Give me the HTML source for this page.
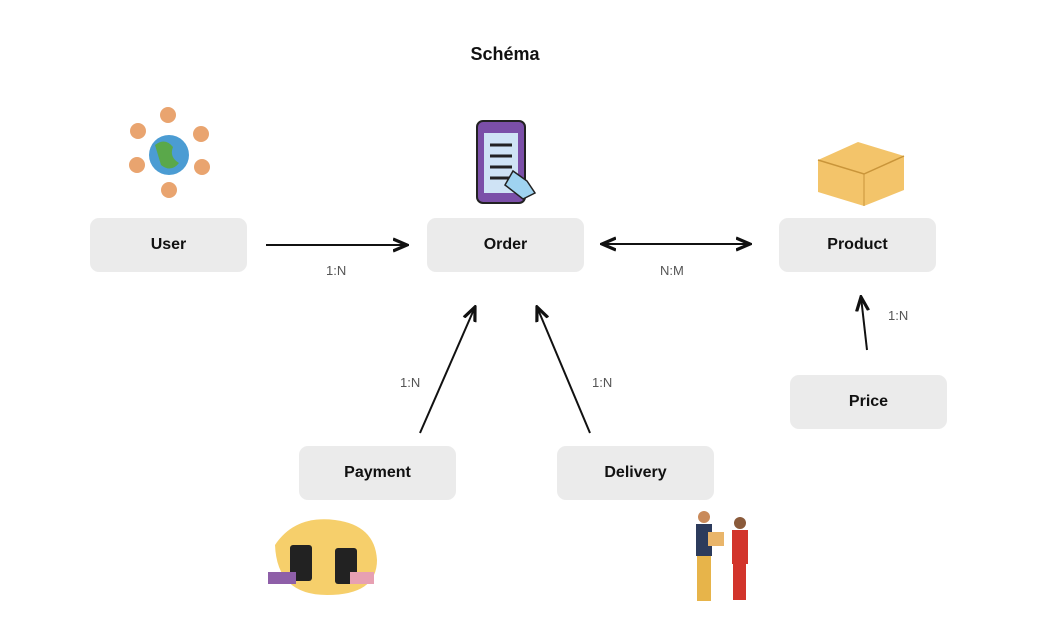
<!DOCTYPE html>
<html><head><meta charset="utf-8"><style>
body{margin:0;background:#fff;width:1050px;height:638px;overflow:hidden;position:relative;font-family:"Liberation Sans",sans-serif}
.b{position:absolute;width:157px;height:54px;background:#ebebeb;border-radius:9px;display:flex;align-items:center;justify-content:center;font-weight:bold;font-size:16px;color:#111}
.l{position:absolute;font-size:13px;color:#555}
svg{position:absolute;left:0;top:0}
</style></head><body>
<div style="position:absolute;left:0;width:1010px;top:44px;text-align:center;font-weight:bold;font-size:18px;color:#111">Schéma</div>
<div class="b" style="left:90px;top:218px">User</div>
<div class="b" style="left:427px;top:218px">Order</div>
<div class="b" style="left:779px;top:218px">Product</div>
<div class="b" style="left:790px;top:375px">Price</div>
<div class="b" style="left:299px;top:446px">Payment</div>
<div class="b" style="left:557px;top:446px">Delivery</div>
<div class="l" style="left:326px;top:263px">1:N</div>
<div class="l" style="left:660px;top:263px">N:M</div>
<div class="l" style="left:400px;top:375px">1:N</div>
<div class="l" style="left:592px;top:375px">1:N</div>
<div class="l" style="left:888px;top:308px">1:N</div>
<svg width="1050" height="638">
<defs><marker id="a" markerWidth="8" markerHeight="8" refX="7" refY="4" orient="auto-start-reverse"><path d="M0,1 L7,4 L0,7" fill="none" stroke="#111" stroke-width="1.6"/></marker></defs>
<g stroke="#111" stroke-width="2" fill="none">
<line x1="266" y1="245" x2="407" y2="245" marker-end="url(#a)"/>
<line x1="602" y1="244" x2="750" y2="244" marker-start="url(#a)" marker-end="url(#a)"/>
<line x1="420" y1="433" x2="475" y2="307" marker-end="url(#a)"/>
<line x1="590" y1="433" x2="537" y2="307" marker-end="url(#a)"/>
<line x1="867" y1="350" x2="861" y2="297" marker-end="url(#a)"/>
</g>
<!-- user globe -->
<circle cx="169" cy="155" r="20" fill="#4b9cd3"/><path d="M155,145 q10,-8 18,2 q-4,10 6,16 q-8,10 -18,2 z" fill="#5aa84a"/>
<g fill="#e9a46f"><circle cx="138" cy="131" r="8"/><circle cx="168" cy="115" r="8"/><circle cx="201" cy="134" r="8"/><circle cx="137" cy="165" r="8"/><circle cx="202" cy="167" r="8"/><circle cx="169" cy="190" r="8"/></g>
<!-- phone -->
<rect x="477" y="121" width="48" height="82" rx="6" fill="#7b4fa8" stroke="#222" stroke-width="2"/>
<rect x="484" y="133" width="34" height="60" fill="#cfe3f5"/>
<g stroke="#222" stroke-width="3"><line x1="490" y1="145" x2="512" y2="145"/><line x1="490" y1="156" x2="512" y2="156"/><line x1="490" y1="167" x2="512" y2="167"/><line x1="490" y1="178" x2="512" y2="178"/></g>
<path d="M505,185 l8,-14 l14,10 l8,12 l-12,6 z" fill="#9fd3f0" stroke="#222" stroke-width="1.5"/>
<!-- box -->
<path d="M818,160 l40,-18 l46,14 l0,34 l-40,16 l-46,-14 z" fill="#f3c46a"/>
<path d="M818,160 l46,14 l40,-18" fill="none" stroke="#c9953a" stroke-width="1.5"/><path d="M864,174 l0,32" stroke="#c9953a"/>
<!-- payment -->
<path d="M275,545 q20,-30 60,-25 q40,5 42,40 q0,35 -50,35 q-50,0 -52,-50z" fill="#f6cf6b"/>
<rect x="290" y="545" width="22" height="36" rx="3" fill="#222"/><rect x="335" y="548" width="22" height="36" rx="3" fill="#222"/>
<rect x="268" y="572" width="28" height="12" fill="#8e5fa8"/><rect x="350" y="572" width="24" height="12" fill="#e7a0b2"/>
<!-- delivery -->
<rect x="696" y="524" width="16" height="32" fill="#2c3b5c"/><rect x="697" y="556" width="14" height="45" fill="#e7b44a"/><circle cx="704" cy="517" r="6" fill="#c98a5a"/>
<rect x="732" y="530" width="16" height="34" fill="#d2342b"/><rect x="733" y="564" width="13" height="36" fill="#d2342b"/><circle cx="740" cy="523" r="6" fill="#8a5a3a"/>
<rect x="708" y="532" width="16" height="14" fill="#e9b56a"/>
</svg>
</body></html>
